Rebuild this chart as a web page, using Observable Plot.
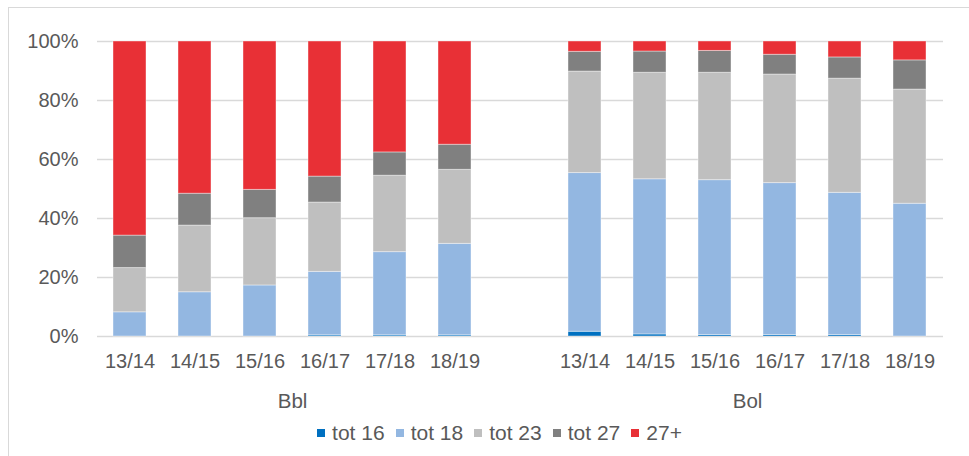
<!DOCTYPE html>
<html>
<head>
<meta charset="utf-8">
<script src="https://cdn.jsdelivr.net/npm/d3@7"></script>
<script src="https://cdn.jsdelivr.net/npm/@observablehq/plot@0.6"></script>
<style>
  html, body { margin: 0; padding: 0; background: #fff; }
  body { width: 969px; height: 456px; overflow: hidden; position: relative; font-family: "Liberation Sans", Arial, sans-serif; }
  #frame { position: absolute; left: 8px; top: 7px; width: 975px; height: 470px; border: 1px solid #d9d9d9; box-sizing: border-box; pointer-events: none; }
  #chart { position: absolute; left: 0; top: 0; }
  #legend { position: absolute; left: 0; top: 420px; width: 969px; display: flex; justify-content: center; gap: 11px; padding-left: 30px; box-sizing: border-box; font-size: 21px; line-height: 26px; color: #595959; }
  #legend .item { display: flex; align-items: center; gap: 7px; }
  #legend .sw { width: 8px; height: 8px; display: inline-block; }
</style>
</head>
<body>
<div id="frame"></div>
<div id="chart"></div>
<div id="legend"></div>
<script>
const groups = ["Bbl", "Bol"];
const seasons = ["13/14", "14/15", "15/16", "16/17", "17/18", "18/19"];
const series = ["tot 16", "tot 18", "tot 23", "tot 27", "27+"];
const colors = ["#0070C0", "#93B7E1", "#BFBFBF", "#808080", "#E83036"];
const yTicks = [0, 20, 40, 60, 80, 100];

// shares in % — first six Bbl, last six Bol
const tot16 = [0, 0, 0, 0.4, 0.4, 0.4, 1.6, 0.7, 0.5, 0.5, 0.5, 0];
const tot18 = [8.2, 15.0, 17.3, 21.5, 28.2, 31.0, 53.8, 52.6, 52.5, 51.5, 48.2, 45.0];
const tot23 = [15.0, 22.6, 22.8, 23.5, 25.9, 25.1, 34.4, 36.1, 36.4, 36.8, 38.7, 38.7];
const tot27 = [11.0, 10.8, 9.6, 8.8, 7.9, 8.5, 6.7, 7.2, 7.4, 6.7, 7.2, 9.9];
const plus27 = [65.8, 51.6, 50.3, 45.8, 37.6, 35.0, 3.5, 3.4, 3.2, 4.5, 5.4, 6.4];

const seriesValues = [tot16, tot18, tot23, tot27, plus27];
const key = (g, s) => g + " " + s;
const GAP = "gap";
const xDomain = [...seasons.map(s => key(groups[0], s)), GAP, ...seasons.map(s => key(groups[1], s))];

const rows = [];
groups.forEach((g, gi) => {
  seasons.forEach((s, si) => {
    series.forEach((name, k) => {
      rows.push({key: key(g, s), series: name, value: seriesValues[k][gi * seasons.length + si]});
    });
  });
});

const W = 969, H = 415, mL = 97, mR = 26, mT = 41, mB = 79;
const padIn = 0.49, padOut = 0.245;
const step = (W - mL - mR) / (xDomain.length - padIn + 2 * padOut);
const midSeason = seasons[Math.floor(seasons.length / 2) - 1];

const txt = "#595959";
const chart = Plot.plot({
  width: W,
  height: H,
  marginTop: mT,
  marginBottom: mB,
  marginLeft: mL,
  marginRight: mR,
  style: {fontFamily: "'Liberation Sans', Arial, sans-serif", background: "transparent"},
  x: {domain: xDomain, paddingInner: padIn, paddingOuter: padOut, label: null, axis: null},
  y: {domain: [0, 100], label: null, axis: null},
  color: {domain: series, range: colors},
  marks: [
    Plot.ruleY(yTicks, {stroke: "#d9d9d9", strokeWidth: 1.4}),
    Plot.barY(rows, {x: "key", y: "value", fill: "series", stroke: "#ffffff", strokeOpacity: 0.4, strokeWidth: 1}),
    Plot.axisY({ticks: yTicks, tickFormat: d => d + "%", tickSize: 0, tickPadding: 19, fontSize: 20, color: txt}),
    Plot.axisX({ticks: xDomain.filter(d => d !== GAP), tickFormat: d => d.split(" ")[1], tickSize: 0, tickPadding: 17, fontSize: 20, color: txt}),
    Plot.text(groups, {x: g => key(g, midSeason), dx: step / 2, frameAnchor: "bottom", dy: 57, lineAnchor: "top", fontSize: 20.5, fill: txt})
  ]
});
document.getElementById("chart").appendChild(chart);

const legend = document.getElementById("legend");
series.forEach((name, i) => {
  const item = document.createElement("div");
  item.className = "item";
  const sw = document.createElement("span");
  sw.className = "sw";
  sw.style.background = colors[i];
  const label = document.createElement("span");
  label.textContent = name;
  item.appendChild(sw);
  item.appendChild(label);
  legend.appendChild(item);
});
</script>
</body>
</html>
